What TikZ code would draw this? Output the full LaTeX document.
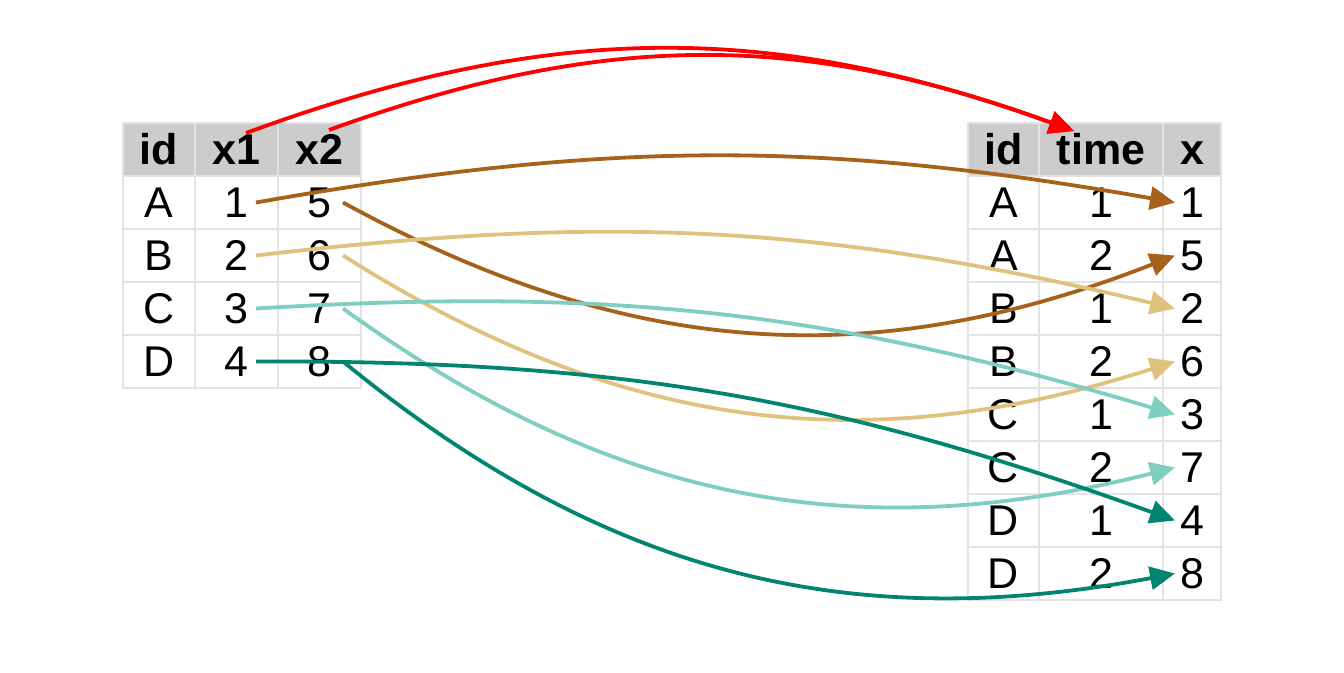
\documentclass[tikz,border=0pt]{standalone}
\usepackage{fontspec}
\setmainfont{Liberation Sans}
\usetikzlibrary{arrows.meta}
\definecolor{brownc}{HTML}{A6611A}
\definecolor{tanc}{HTML}{DFC27D}
\definecolor{ltealc}{HTML}{80CDC1}
\definecolor{dtealc}{HTML}{018571}
\definecolor{gridc}{HTML}{E3E3E3}
\definecolor{headc}{HTML}{CCCCCC}
\begin{document}
\begin{tikzpicture}[x=1pt,y=1pt,
  cell/.style={draw=gridc, line width=2.6pt, minimum height=53pt, inner sep=0pt,
    font=\fontsize{43}{43}\selectfont, text height=30.8pt, text depth=0pt},
  hcell/.style={cell, fill=headc, font=\fontsize{43}{43}\selectfont\bfseries},
  arr/.style={line width=3.8pt, -{Triangle[length=25pt,width=23pt]}}]
\useasboundingbox (0,0) rectangle (1344,-672);
% left table
\node[hcell, minimum width=72pt] (L-0-1) at (159,-149.5) {id};
\node[hcell, minimum width=83pt] (L-0-2) at (236.5,-149.5) {x1};
\node[hcell, minimum width=83pt] (L-0-3) at (319.5,-149.5) {x2};
\foreach \r/\a/\b/\c in {1/A/1/5,2/B/2/6,3/C/3/7,4/D/4/8}{
  \pgfmathsetmacro\yy{-149.5-53*\r}
  \node[cell, minimum width=72pt] (L-\r-1) at (159,\yy) {\a};
  \node[cell, minimum width=83pt] (L-\r-2) at (236.5,\yy) {\b};
  \node[cell, minimum width=83pt] (L-\r-3) at (319.5,\yy) {\c};
}
% right table
\node[hcell, minimum width=71pt] (R-0-1) at (1003.5,-149.5) {id};
\node[hcell, minimum width=124pt] (R-0-2) at (1101,-149.5) {time};
\node[hcell, minimum width=58pt] (R-0-3) at (1192,-149.5) {x};
\foreach \r/\a/\b/\c in {1/A/1/1,2/A/2/5,3/B/1/2,4/B/2/6,5/C/1/3,6/C/2/7,7/D/1/4,8/D/2/8}{
  \pgfmathsetmacro\yy{-149.5-53*\r}
  \node[cell, minimum width=71pt] (R-\r-1) at (1003.5,\yy) {\a};
  \node[cell, minimum width=124pt] (R-\r-2) at (1101,\yy) {\b};
  \node[cell, minimum width=58pt] (R-\r-3) at (1192,\yy) {\c};
}
% header arrows
\draw[arr, red] ([xshift=9.5pt,yshift=16.5pt]L-0-2.center) to[bend left=20] ([xshift=-27pt,yshift=18.5pt]R-0-2.center);
\draw[arr, red] ([xshift=9.5pt,yshift=19.5pt]L-0-3.center) to[bend left=20] ([xshift=-27pt,yshift=18.5pt]R-0-2.center);
% value arrows
\foreach \r/\col in {1/brownc,2/tanc,3/ltealc,4/dtealc}{
  \pgfmathtruncatemacro\ra{2*\r-1}
  \pgfmathtruncatemacro\rb{2*\r}
  \draw[arr,\col] ([xshift=19.5pt]L-\r-2.center) to[bend left=10] ([xshift=-17pt]R-\ra-3.center);
  \draw[arr,\col] ([xshift=23.5pt]L-\r-3.center) to[bend right=25] ([xshift=-17pt]R-\rb-3.center);
}
\end{tikzpicture}
\end{document}
